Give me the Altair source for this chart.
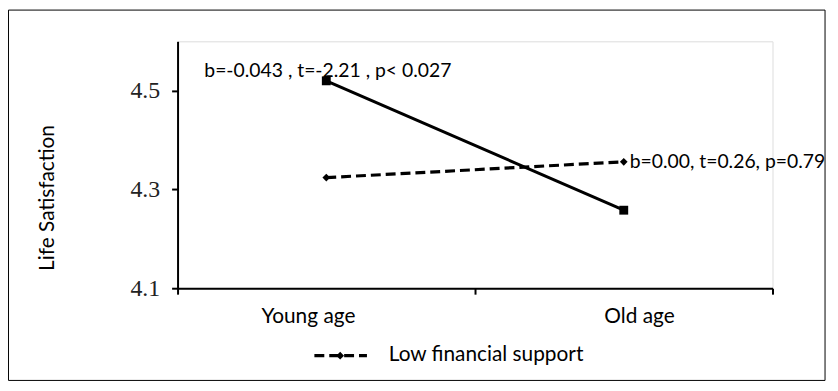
import altair as alt
import pandas as pd

# ---- data ----
ages = ["Young age", "Old age"]
age_pos = [0.5, 1.5]
high_support = [4.52, 4.258]      # solid line, squares
low_support = [4.324, 4.356]      # dashed line, diamonds
y_ticks = [4.1, 4.3, 4.5]
x_label_pos = [0.44, 1.553]
annot_text = ["b=-0.043 , t=-2.21 , p< 0.027", "b=0.00, t=0.26, p=0.79"]
annot_x = [0.09, 1.5]
annot_y = [4.54, 4.356]
legend_label = "Low financial support"

solid_df = pd.DataFrame({"x": age_pos, "y": high_support, "age": ages})
dash_df = pd.DataFrame({"x": age_pos, "y": low_support, "age": ages})
xlab_df = pd.DataFrame({"x": x_label_pos, "label": ages})
ann_df = pd.DataFrame({"x": annot_x, "y": annot_y, "label": annot_text})

FONT = "Lato"
xs = alt.Scale(domain=[0, 2], nice=False, zero=False)
ys = alt.Scale(domain=[4.1, 4.6], nice=False, zero=False)

xenc = alt.X("x:Q", scale=xs, axis=alt.Axis(values=[0, 1, 2], labels=False, title=None,
                                            tickSize=6, tickWidth=2, tickColor="black",
                                            domainWidth=2, domainColor="black", grid=False))
yenc = alt.Y("y:Q", scale=ys, axis=alt.Axis(values=y_ticks, format=".1f", title=None,
                                            tickSize=6, tickWidth=2, tickColor="black",
                                            domainWidth=2, domainColor="black", grid=False,
                                            labelFont="Liberation Serif", labelFontSize=24,
                                            labelColor="#222", labelPadding=12))

solid_line = alt.Chart(solid_df).mark_line(color="black", strokeWidth=3).encode(x=xenc, y=yenc)
solid_pts = alt.Chart(solid_df).mark_point(shape="square", filled=True, size=80, color="black", opacity=1).encode(x="x:Q", y="y:Q")
dash_line = alt.Chart(dash_df).mark_line(color="black", strokeWidth=3.2, strokeDash=[10, 5]).encode(x="x:Q", y="y:Q")
dash_pts = alt.Chart(dash_df).mark_point(shape="diamond", filled=True, size=60, color="black", opacity=1).encode(x="x:Q", y="y:Q")

ann0 = alt.Chart(ann_df.iloc[[0]]).mark_text(align="left", baseline="middle", font=FONT, fontSize=19.5, color="black").encode(
    x="x:Q", y="y:Q", text="label:N")
ann1 = alt.Chart(ann_df.iloc[[1]]).mark_text(align="left", baseline="middle", dx=6, font=FONT, fontSize=19.5, color="black").encode(
    x="x:Q", y="y:Q", text="label:N")

xlabels = alt.Chart(xlab_df).mark_text(align="center", baseline="middle", font=FONT, fontSize=21, color="black").encode(
    x="x:Q", y=alt.value(278), text="label:N")

ytitle = alt.Chart(pd.DataFrame({"t": ["Life Satisfaction"]})).mark_text(
    angle=270, align="center", baseline="middle", font=FONT, fontSize=21, color="black").encode(
    x=alt.value(-131), y=alt.value(158), text="t:N")

leg_df = pd.DataFrame({"label": [legend_label]})
leg_line = alt.Chart(leg_df).mark_rule(color="black", strokeWidth=3.2, strokeDash=[10, 5]).encode(
    x=alt.value(138), x2=alt.value(191), y=alt.value(317))
leg_pt = alt.Chart(leg_df).mark_point(shape="diamond", filled=True, size=60, color="black", opacity=1).encode(
    x=alt.value(164), y=alt.value(317))
leg_txt = alt.Chart(leg_df).mark_text(align="left", baseline="middle", font=FONT, fontSize=21, color="black").encode(
    x=alt.value(213), y=alt.value(316), text="label:N")

frame = alt.Chart(leg_df).mark_rect(fill=None, stroke="black", strokeWidth=1).encode(
    x=alt.value(-170.5), x2=alt.value(653), y=alt.value(-31.5), y2=alt.value(342))

chart = alt.layer(
    solid_line, dash_line, solid_pts, dash_pts, ann0, ann1, xlabels, ytitle,
    leg_line, leg_pt, leg_txt, frame
).properties(
    width=600, height=249,
    autosize=alt.AutoSizeParams(type="none"),
    padding={"left": 171, "top": 32, "right": 58, "bottom": 95},
).configure_view(stroke=None).configure(background="white")

chart.save("out.html", embed_options={"renderer": "svg", "actions": False})
